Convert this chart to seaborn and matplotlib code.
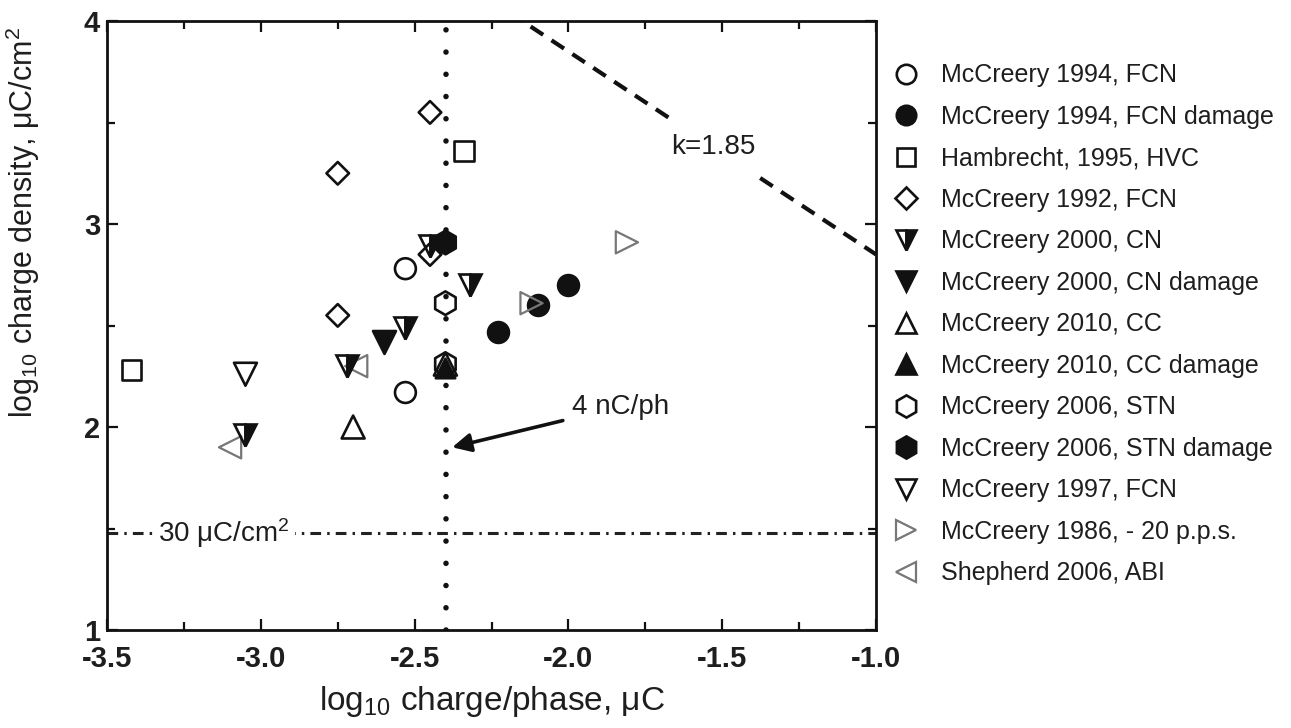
import numpy as np
import pandas as pd
import matplotlib
matplotlib.use("Agg")
import matplotlib.pyplot as plt
import seaborn as sns
from matplotlib.lines import Line2D
from matplotlib.ticker import MultipleLocator, FormatStrFormatter

# ---------------- data ----------------
fcn94_x = [-2.53, -2.53]
fcn94_y = [2.78, 2.17]
fcn94d_x = [-2.23, -2.10, -2.00]
fcn94d_y = [2.47, 2.60, 2.70]
hvc95_x = [-3.42, -2.34]
hvc95_y = [2.28, 3.36]
fcn92_x = [-2.75, -2.75, -2.45, -2.45]
fcn92_y = [3.25, 2.55, 3.55, 2.85]
cn00_x = [-3.05, -2.72, -2.53, -2.45, -2.32]
cn00_y = [1.96, 2.30, 2.49, 2.89, 2.70]
cn00d_x = [-2.60]
cn00d_y = [2.42]
cc10_x = [-2.70, -2.40]
cc10_y = [2.00, 2.31]
cc10d_x = [-2.40]
cc10d_y = [2.29]
stn06_x = [-2.40, -2.40]
stn06_y = [2.61, 2.31]
stn06d_x = [-2.40]
stn06d_y = [2.91]
fcn97_x = [-3.05]
fcn97_y = [2.26]
pps86_x = [-1.81, -2.12]
pps86_y = [2.91, 2.61]
abi06_x = [-3.10, -2.69]
abi06_y = [1.90, 2.30]

labels = ["McCreery 1994, FCN", "McCreery 1994, FCN damage", "Hambrecht, 1995, HVC",
          "McCreery 1992, FCN", "McCreery 2000, CN", "McCreery 2000, CN damage",
          "McCreery 2010, CC", "McCreery 2010, CC damage", "McCreery 2006, STN",
          "McCreery 2006, STN damage", "McCreery 1997, FCN", "McCreery 1986, - 20 p.p.s.",
          "Shepherd 2006, ABI"]

k_value = 1.85                    # Shannon k line
charge_4nC = np.log10(0.004)      # 4 nC/phase in log10 uC
density_30 = np.log10(30)         # 30 uC/cm^2
x_ticks = [-3.5, -3.0, -2.5, -2.0, -1.5, -1.0]
y_ticks = [1, 2, 3, 4]

# ---------------- style ----------------
sns.set_theme(style="ticks")
plt.rcParams["font.family"] = ["Liberation Sans", "DejaVu Sans"]
plt.rcParams["mathtext.fontset"] = "custom"
plt.rcParams["mathtext.rm"] = "Liberation Sans"
plt.rcParams["mathtext.it"] = "Liberation Sans:italic"
plt.rcParams["mathtext.bf"] = "Liberation Sans:bold"
plt.rcParams["axes.unicode_minus"] = False

fig = plt.figure(figsize=(12.91, 7.28), dpi=100)
ax = fig.add_axes([0.0829, 0.1346, 0.5957, 0.8365])

BLACK = "#111111"
GRAY = "#777777"
TXT = "#1e1e1e"
EW = 1.9

# reference lines
xs_k = np.linspace(-2.3, -1.0, 50)
ax.plot(xs_k, k_value - xs_k, color=BLACK, lw=3.0, ls=(0, (3.6, 2.4)), zorder=1)
ax.axvline(charge_4nC, color=BLACK, lw=4.0, ls=(0, (0.001, 4.0)),
           dash_capstyle="round", zorder=1)
ax.axhline(density_30, color="#222222", lw=2.2, ls=(0, (3.5, 2.0, 0.8, 2.0)), zorder=1)

# series drawn via seaborn
def sc(x, y, marker, size, face, edge, lw=EW, z=3):
    df = pd.DataFrame({"x": x, "y": y})
    sns.scatterplot(data=df, x="x", y="y", marker=marker, s=size ** 2,
                    facecolor=face, edgecolor=edge, linewidth=lw, ax=ax,
                    zorder=z, legend=False)

sc(hvc95_x, hvc95_y, "s", 14, "none", BLACK)
sc(fcn92_x, fcn92_y, "D", 11.5, "none", BLACK)
sc(fcn94_x, fcn94_y, "o", 15, "none", BLACK)
sc(fcn94d_x, fcn94d_y, "o", 15, BLACK, BLACK)
sc(stn06_x, stn06_y, "h", 17, "none", BLACK)
sc(stn06d_x, stn06d_y, "h", 17, BLACK, BLACK)
sc(cc10_x, cc10_y, "^", 16.5, "none", BLACK)
sc(cc10d_x, cc10d_y, "^", 14, BLACK, BLACK)
sc(cn00d_x, cn00d_y, "v", 16.5, BLACK, BLACK)
sc(fcn97_x, fcn97_y, "v", 16.5, "none", BLACK)
sc(pps86_x, pps86_y, ">", 16, "none", GRAY, lw=1.6)
sc(abi06_x, abi06_y, "<", 16, "none", GRAY, lw=1.6)
# half-filled triangles (McCreery 2000, CN)
ax.plot(cn00_x, cn00_y, ls="none", marker="v", ms=16.5, fillstyle="right",
        markerfacecolor=BLACK, markerfacecoloralt="none", markeredgecolor=BLACK,
        markeredgewidth=EW, zorder=4)

# annotations
ax.text(-1.53, k_value + 1.53, "k=1.85", fontsize=20, ha="center", va="center",
        color=TXT, zorder=2,
        bbox=dict(facecolor="white", edgecolor="none", pad=11))
ax.text(-3.12, density_30, r"30 μC/cm$^2$", fontsize=20, ha="center", va="center",
        color=TXT, zorder=2,
        bbox=dict(facecolor="white", edgecolor="none", pad=4))
ax.annotate("4 nC/ph", xy=(charge_4nC + 0.02, 1.90), xytext=(-1.99, 2.10),
            fontsize=20, ha="left", va="center", color=TXT,
            arrowprops=dict(arrowstyle="-|>", color=BLACK, lw=2.6,
                            mutation_scale=28, shrinkA=4, shrinkB=0))

# axes
ax.set_xlim(-3.5, -1.0)
ax.set_ylim(1, 4)
ax.set_xticks(x_ticks)
ax.set_yticks(y_ticks)
ax.xaxis.set_major_formatter(FormatStrFormatter("%.1f"))
ax.xaxis.set_minor_locator(MultipleLocator(0.25))
ax.yaxis.set_minor_locator(MultipleLocator(0.5))
ax.tick_params(which="both", direction="in", top=True, right=True, width=1.6,
               color=BLACK)
ax.tick_params(which="major", length=8)
ax.tick_params(which="minor", length=6)
ax.tick_params(axis="x", which="major", pad=11, labelsize=21)
ax.tick_params(axis="y", which="major", pad=5, labelsize=21)
for lab in ax.get_xticklabels() + ax.get_yticklabels():
    lab.set_fontweight("bold")
    lab.set_color(TXT)
for sp in ax.spines.values():
    sp.set_linewidth(2.0)
    sp.set_color(BLACK)
    sp.set_visible(True)

ax.set_xlabel(r"log$_{10}$ charge/phase, μC", fontsize=24, color=TXT, labelpad=8)
ax.set_ylabel(r"log$_{10}$ charge density, μC/cm$^2$", fontsize=22, color=TXT)
ax.yaxis.set_label_coords(-0.085, 0.67)

# legend
handles = [
    Line2D([], [], ls="none", marker="o", ms=14, mfc="none", mec=BLACK, mew=EW),
    Line2D([], [], ls="none", marker="o", ms=14, mfc=BLACK, mec=BLACK, mew=EW),
    Line2D([], [], ls="none", marker="s", ms=13, mfc="none", mec=BLACK, mew=EW),
    Line2D([], [], ls="none", marker="D", ms=11, mfc="none", mec=BLACK, mew=EW),
    Line2D([], [], ls="none", marker="v", ms=15, fillstyle="right", mfc=BLACK,
           mfcalt="none", mec=BLACK, mew=EW),
    Line2D([], [], ls="none", marker="v", ms=15, mfc=BLACK, mec=BLACK, mew=EW),
    Line2D([], [], ls="none", marker="^", ms=15, mfc="none", mec=BLACK, mew=EW),
    Line2D([], [], ls="none", marker="^", ms=15, mfc=BLACK, mec=BLACK, mew=EW),
    Line2D([], [], ls="none", marker="h", ms=16, mfc="none", mec=BLACK, mew=EW),
    Line2D([], [], ls="none", marker="h", ms=16, mfc=BLACK, mec=BLACK, mew=EW),
    Line2D([], [], ls="none", marker="v", ms=15, mfc="none", mec=BLACK, mew=EW),
    Line2D([], [], ls="none", marker=">", ms=15, mfc="none", mec=GRAY, mew=1.6),
    Line2D([], [], ls="none", marker="<", ms=15, mfc="none", mec=GRAY, mew=1.6),
]
fig.legend(handles, labels, loc="upper left", bbox_to_anchor=(0.69, 0.913),
           frameon=False, fontsize=18, handlelength=1.2, handletextpad=0.8,
           labelspacing=0.70, borderpad=0, borderaxespad=0,
           labelcolor=TXT)

fig.savefig("out.png", dpi=100, facecolor="white")
